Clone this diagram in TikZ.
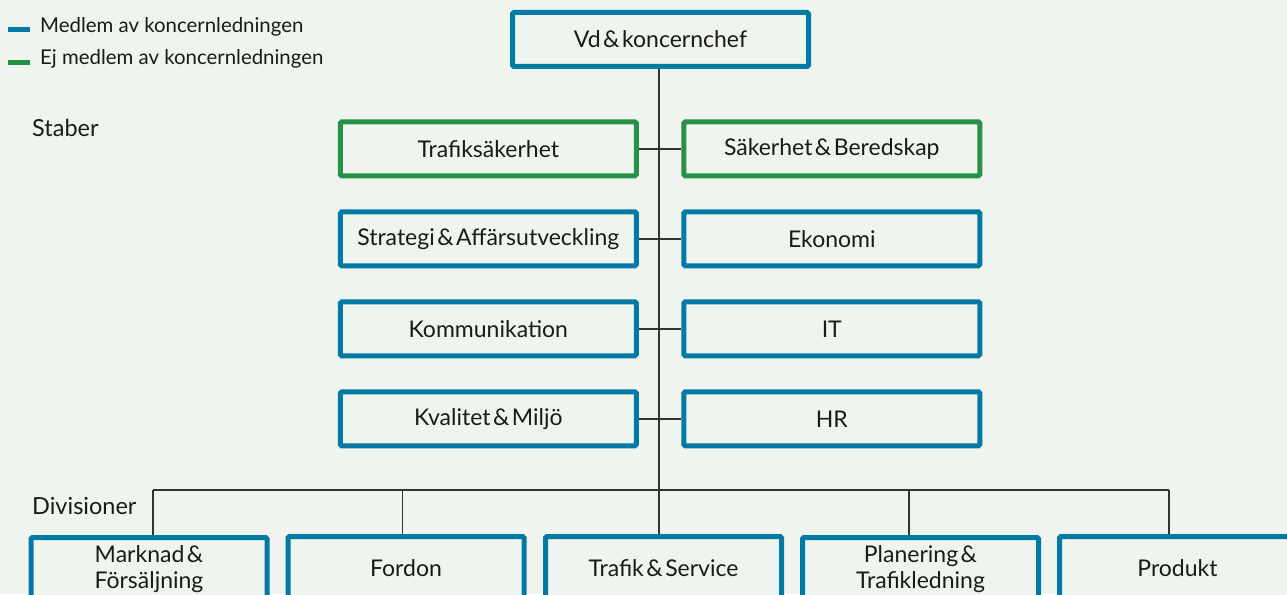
\documentclass[tikz,border=0pt]{standalone}
\usepackage{fontspec}
\setmainfont{Lato}
\usetikzlibrary{backgrounds}
\definecolor{bgc}{RGB}{240,244,239}
\definecolor{slblue}{RGB}{2,122,166}
\definecolor{slgreen}{RGB}{40,145,72}
\definecolor{txt}{RGB}{26,26,26}
\definecolor{linec}{RGB}{51,51,51}
\newcommand{\amp}{\hspace{2.5pt}\&\hspace{2.5pt}}
\tikzset{
  orgbox/.style={draw=slblue, line width=5pt, rounded corners=1.5pt, fill=bgc,
    minimum width=296pt, minimum height=54pt, inner sep=0pt, align=center,
    text=txt, font=\fontsize{23}{26}\selectfont},
  greenbox/.style={orgbox, draw=slgreen},
  divbox/.style={orgbox, minimum width=236pt, minimum height=64pt},
  conn/.style={draw=linec, line width=1.5pt},
  lbl/.style={anchor=base west, inner sep=0pt, text=txt, font=\fontsize{23.5}{26}\selectfont},
  legtxt/.style={anchor=base west, inner sep=0pt, text=txt, font=\fontsize{20.4}{24}\selectfont},
}
\begin{document}
\begin{tikzpicture}[x=1pt,y=-1pt]
\useasboundingbox (0,0) rectangle (1287,594);
% boxes
\node[orgbox] (vd) at (660.5,39.5) {Vd\amp koncernchef};
\node[greenbox] (l1) at (488.3,148.8) {Trafiksäkerhet};
\node[greenbox] (r1) at (831.8,148.8) {Säkerhet\amp Beredskap};
\node[orgbox] (l2) at (488.3,238.8) {Strategi\amp Affärsutveckling};
\node[orgbox] (r2) at (831.8,238.8) {Ekonomi};
\node[orgbox] (l3) at (488.3,328.8) {Kommunikation};
\node[orgbox] (r3) at (831.8,328.8) {IT};
\node[orgbox] (l4) at (488.3,418.8) {Kvalitet\amp Miljö};
\node[orgbox] (r4) at (831.8,418.8) {HR};
\node[divbox] (b1) at (149,569.5) {Marknad\hspace{2.5pt}\&\\Försäljning};
\node[divbox] (b2) at (406,568.5) {Fordon};
\node[divbox] (b3) at (663.5,568.5) {Trafik\amp Service};
\node[divbox] (b4) at (920.5,569.5) {Planering\hspace{2.5pt}\&\\Trafikledning};
\node[divbox] (b5) at (1177.5,568.5) {Produkt};
% labels
\node[lbl] (staber) at (32,136) {Staber};
\node[lbl] (div) at (32,514) {Divisioner};
\node[legtxt] (leg1) at (40,33) {Medlem av koncernledningen};
\node[legtxt] (leg2) at (40,65) {Ej medlem av koncernledningen};
\coordinate (m1a) at (8,29.5); \coordinate (m1b) at (30,29.5);
\coordinate (m2a) at (8,62.5); \coordinate (m2b) at (30,62.5);
\draw[slblue, line width=5pt] (m1a) -- (m1b);
\draw[slgreen, line width=5pt] (m2a) -- (m2b);
% connectors
\coordinate (d1) at (153,490);
\coordinate (d2) at (402.5,490);
\coordinate (d3) at (659,490);
\coordinate (d4) at (909,490);
\coordinate (d5) at (1169,490);
\begin{scope}[on background layer]
  \fill[bgc] (0,0) rectangle (1287,594);
  \draw[conn] (vd.south -| d3) -- (d3);
  \draw[conn] (l1.east) -- (r1.west);
  \draw[conn] (l2.east) -- (r2.west);
  \draw[conn] (l3.east) -- (r3.west);
  \draw[conn] (l4.east) -- (r4.west);
  \draw[conn] (d1) -- (d5);
  \draw[conn] (d1) -- (d1 |- b1.north);
  \draw[conn] (d2) -- (d2 |- b2.north);
  \draw[conn] (d3) -- (d3 |- b3.north);
  \draw[conn] (d4) -- (d4 |- b4.north);
  \draw[conn] (d5) -- (d5 |- b5.north);
\end{scope}
\end{tikzpicture}
\end{document}
